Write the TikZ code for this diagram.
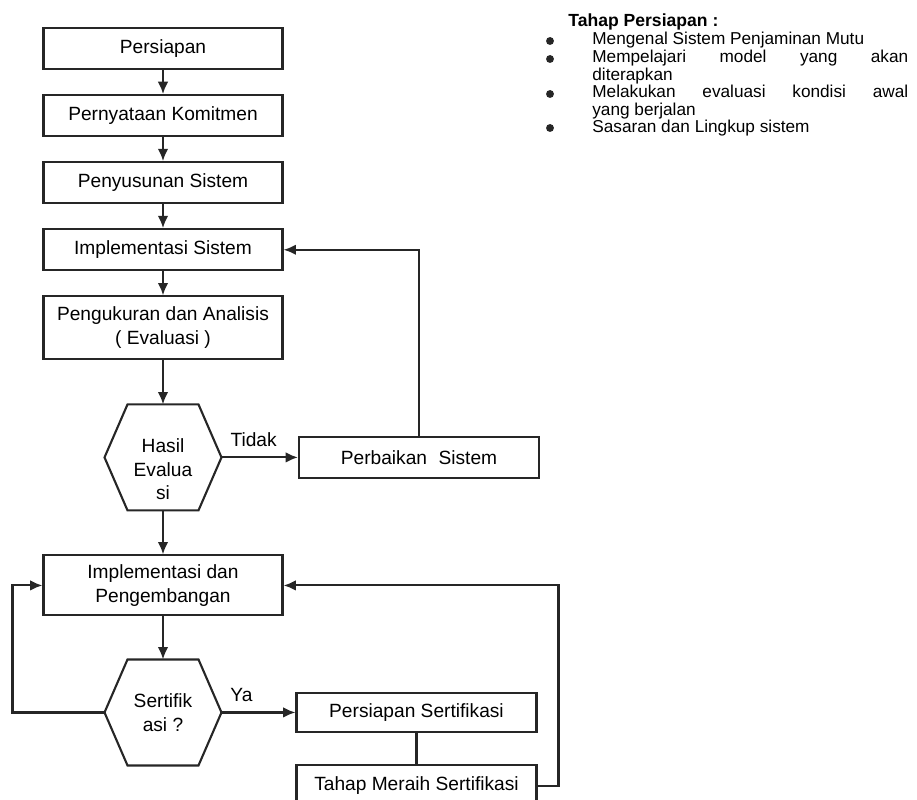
\documentclass[tikz,border=0pt]{standalone}
\usepackage{fontspec}
\setmainfont{Liberation Sans}
\usepackage{tikz}
\usetikzlibrary{arrows.meta,positioning}
\definecolor{InkDark}{HTML}{262626}
\tolerance=10000
\hbadness=10000

% outline of a flattened hexagon round a decision node
\newcommand{\hexframe}[1]{%
  \draw[ink] (#1.west) -- ([xshift=4.6mm]#1.north west) -- ([xshift=-4.6mm]#1.north east)
    -- (#1.east) -- ([xshift=-4.6mm]#1.south east) -- ([xshift=4.6mm]#1.south west) -- cycle;}

\begin{document}
\begin{tikzpicture}[
    x=0.02cm, y=-0.02cm,
    node distance=4.8mm,
    font=\fontsize{10.9}{13.5}\selectfont,
    ink/.style={draw=InkDark, line width=1.2pt},
    stepbox/.style={ink, align=center, minimum width=4.78cm, minimum height=8.2mm, inner sep=2pt},
    tallbox/.style={stepbox, minimum height=12.6mm},
    sidebox/.style={stepbox, minimum width=4.8cm},
    decision/.style={align=center, minimum width=2.34cm, minimum height=2.12cm, inner sep=0pt, outer sep=0pt},
    arrow/.style={ink, -{Latex[length=7pt,width=6pt]}},
    link/.style={ink},
    bullettext/.style={anchor=base west, inner sep=0pt, text width=6.32cm, align=justify,
                       font=\fontsize{9.8}{9.9}\selectfont},
    bulletdot/.style={circle, fill=InkDark, inner sep=0pt, minimum size=4.5pt}
]
\useasboundingbox (0,0) rectangle (917,800);

% main column
\node[stepbox] (persiapan) at (163,48.5) {Persiapan};
\node[stepbox, below=of persiapan] (komitmen) {Pernyataan Komitmen};
\node[stepbox, below=of komitmen] (susun) {Penyusunan Sistem};
\node[stepbox, below=of susun] (impl) {Implementasi Sistem};
\node[tallbox, below=of impl] (ukur) {Pengukuran dan Analisis\\( Evaluasi )};
\node[decision, below=8.8mm of ukur] (hasil) {\rule{0pt}{7.5mm}Hasil\\Evalua\\si};
\node[tallbox, minimum height=12mm, below=8.8mm of hasil] (kembang) {Implementasi dan\\Pengembangan};
\node[decision, below=8.6mm of kembang] (sert) {Sertifik\\asi ?};
\hexframe{hasil}
\hexframe{sert}

% right column
\node[sidebox, right=15.3mm of hasil] (perbaikan) {Perbaikan\hspace{0.6em}Sistem};
\node[sidebox, minimum height=7.8mm, right=14.8mm of sert] (psert) {Persiapan Sertifikasi};
\node[sidebox, below=6.2mm of psert] (tahap) {Tahap Meraih Sertifikasi};

\draw[arrow] (persiapan) -- (komitmen);
\draw[arrow] (komitmen) -- (susun);
\draw[arrow] (susun) -- (impl);
\draw[arrow] (impl) -- (ukur);
\draw[arrow] (ukur) -- (hasil);
\draw[arrow] (hasil) -- node[above=2pt, pos=0.42] (tidak) {Tidak} (perbaikan);
\draw[arrow] (perbaikan.north) |- (impl.east);
\draw[arrow] (hasil) -- (kembang);
\draw[arrow] (kembang) -- (sert);
\draw[arrow] (sert) -- node[above=2pt, pos=0.27] (ya) {Ya} (psert);
\draw[arrow] (sert.west) -- ++(-92,0) |- (kembang.west);
\draw[link] (psert) -- (tahap);
\draw[arrow] (tahap.east) -- ++(21,0) |- (kembang.east);

% notes on the preparation stage
\node[anchor=base west, inner sep=0pt, font=\bfseries\fontsize{10}{10}\selectfont] (judul) at (568,27) {Tahap Persiapan :};
\node[bullettext] (t1) at (592,45) {Mengenal Sistem Penjaminan Mutu};
\node[bullettext] (t2) at (592,63) {Mempelajari model yang akan\linebreak diterapkan};
\node[bullettext] (t3) at (592,98) {Melakukan evaluasi kondisi awal\linebreak yang berjalan};
\node[bullettext] (t4) at (592,133) {Sasaran dan Lingkup sistem};
\node[bulletdot] (d1) at (550,41) {};
\node[bulletdot] (d2) at (550,59) {};
\node[bulletdot] (d3) at (550,94) {};
\node[bulletdot] (d4) at (550,128) {};
\end{tikzpicture}
\end{document}
